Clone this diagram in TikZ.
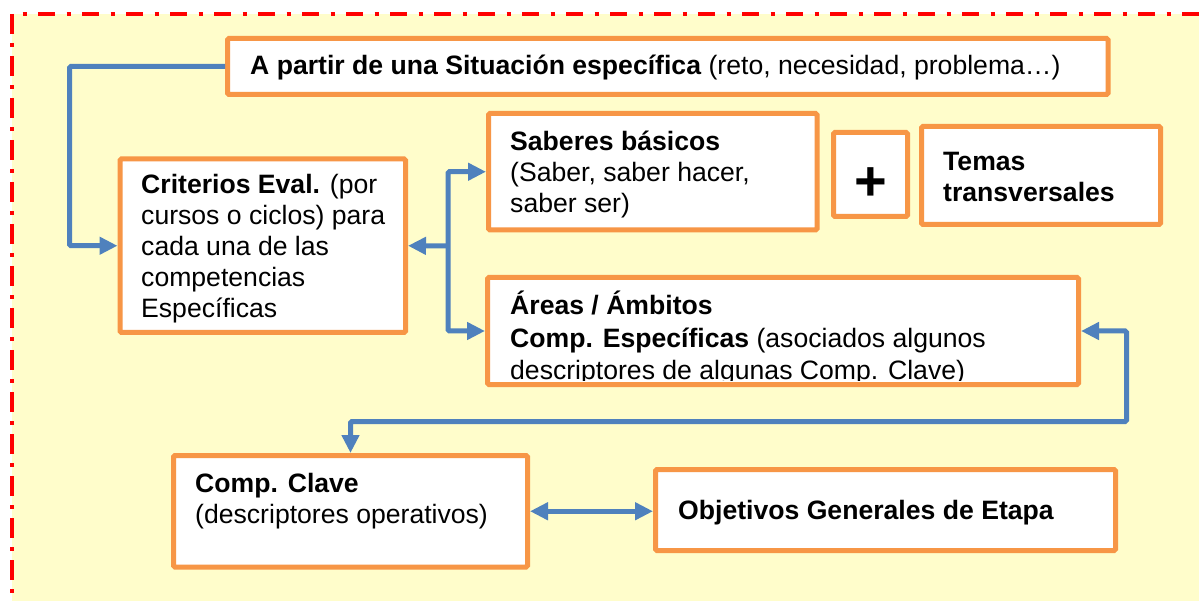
\documentclass[tikz,border=0pt]{standalone}
\usepackage{fontspec}
\setmainfont{Liberation Sans}
\usetikzlibrary{arrows.meta}
\definecolor{boxorange}{HTML}{F79646}
\definecolor{lineblue}{HTML}{4F81BD}
\definecolor{bgyellow}{HTML}{FFFDCB}
\begin{document}
\begin{tikzpicture}[x=1pt,y=-1pt,
  box/.style={draw=boxorange, line width=5pt, fill=white, rounded corners=1.5pt, inner sep=0pt},
  txt/.style={anchor=west, align=left, inner sep=0pt, font=\fontsize{26.6}{31}\selectfont},
  conn/.style={draw=lineblue, line width=5pt, rounded corners=1.5pt},
  arrowend/.style={-{Triangle[length=18pt,width=17pt]}},
  arrowboth/.style={{Triangle[length=18pt,width=17pt]}-{Triangle[length=18pt,width=17pt]}}]
\useasboundingbox (0,0) rectangle (1199,601);
\clip (0,0) rectangle (1199,601);
% background and frame
\fill[bgyellow] (12,14) rectangle (1230,640);
\draw[red, line width=4pt, dash pattern=on 20pt off 9pt on 4pt off 9pt] (12,14) -- (12,640);
\draw[red, line width=4pt, dash pattern=on 17pt off 11.5pt on 4pt off 11.5pt, dash phase=18pt] (12,14) -- (1230,14);
% boxes
\node[box, minimum width=880.5, minimum height=56] (A) at (667.75,66.5) {};
\node[box, minimum width=285.5, minimum height=173.5] (crit) at (262.75,245.75) {};
\node[box, minimum width=328.5, minimum height=116.5] (sab) at (652.75,171.75) {};
\node[box, minimum width=74, minimum height=84] (plus) at (870.5,174.5) {};
\node[box, minimum width=239, minimum height=98] (temas) at (1041,175.5) {};
\node[box, minimum width=591, minimum height=107] (ar) at (783,331) {};
\node[box, minimum width=354, minimum height=111.5] (cc) at (350.5,511.25) {};
\node[box, minimum width=460, minimum height=81] (obj) at (885.5,510) {};
% texts
\node[txt] (At) at (250,68) {\textbf{A partir de una Situación específica} (reto, necesidad, problema…)};
\node[txt] (critT) at (141,249) {\textbf{Criterios Eval.} (por\\cursos o ciclos) para\\cada una de las\\competencias\\Específicas};
\node[txt] (sabT) at (510,175) {\textbf{Saberes básicos}\\(Saber, saber hacer,\\saber ser)};
\node[txt, font=\fontsize{26.6}{31}\selectfont\bfseries] (temasT) at (943,177) {Temas\\transversales};
\begin{scope}
\clip (490,280) rectangle (1076,380);
\node[txt, font=\fontsize{26.6}{32.5}\selectfont] (arT) at (510,338) {\textbf{Áreas / Ámbitos}\\\textbf{Comp. Específicas} (asociados algunos\\descriptores de algunas Comp. Clave)};
\end{scope}
\node[txt] (ccT) at (195,501) {\textbf{Comp. Clave}\\(descriptores operativos)};
\node[txt, font=\fontsize{26.6}{31}\selectfont\bfseries] (objT) at (678,513) {Objetivos Generales de Etapa};
\node[inner sep=0pt, font=\fontsize{56}{56}\selectfont\bfseries] (plusT) at (870.5,184) {+};
% connectors
\coordinate (c1) at (69.5,66.5);
\coordinate (j) at (448,246);
\coordinate (c2) at (1126.5,421.5);
\draw[conn, arrowend] (A.west) -- (c1) |- (crit.west);
\draw[conn, arrowboth] (sab.west) -| (j) |- (ar.west);
\draw[conn, arrowend] (j) -- (crit.east);
\draw[conn, arrowboth] (ar.east) -| (c2) -| (cc.north);
\draw[conn, arrowboth] (cc.east) -- (obj.west |- cc.east);
\end{tikzpicture}
\end{document}
